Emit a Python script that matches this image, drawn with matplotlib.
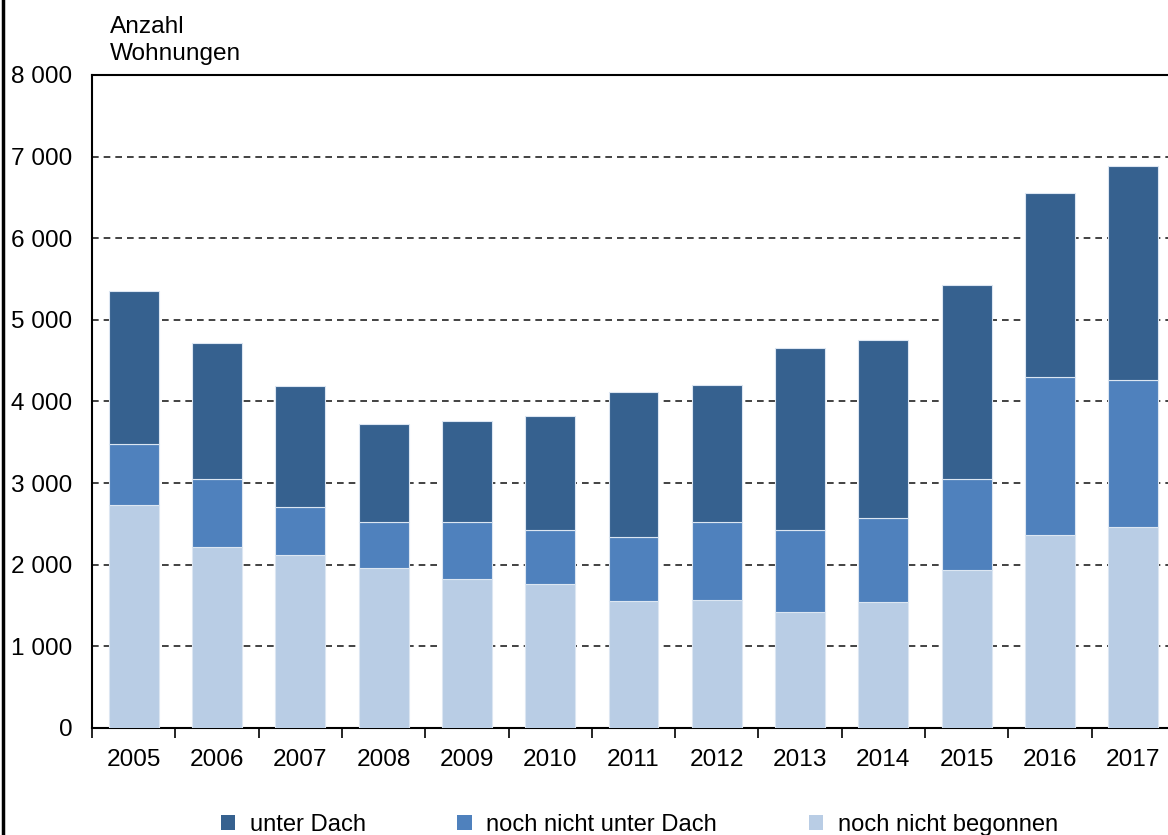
import matplotlib.pyplot as plt
from matplotlib.patches import Patch
from matplotlib.lines import Line2D
from matplotlib.ticker import FuncFormatter

years = ["2005", "2006", "2007", "2008", "2009", "2010", "2011",
         "2012", "2013", "2014", "2015", "2016", "2017"]
# Wohnungen, Bauüberhang nach Baufortschritt
nicht_begonnen = [2733, 2218, 2120, 1961, 1826, 1765, 1556, 1569, 1422, 1544, 1936, 2365, 2463]
nicht_unter_dach = [747, 833, 588, 564, 699, 661, 785, 956, 1004, 1030, 1115, 1936, 1802]
unter_dach = [1875, 1667, 1483, 1200, 1237, 1398, 1777, 1678, 2231, 2181, 2378, 2255, 2622]

labels = ["unter Dach", "noch nicht unter Dach", "noch nicht begonnen"]
colors = ["#36618f", "#4f81bd", "#b9cde5"]

plt.rcParams['font.family'] = ['Liberation Sans', 'DejaVu Sans']
FS = 17.6

W, H = 1168, 835
fig = plt.figure(figsize=(W / 100, H / 100), dpi=100)
ax = fig.add_axes([92 / W, (H - 728) / H, 1083 / W, (728 - 75) / H])

x = range(len(years))
bottom2 = nicht_begonnen
bottom3 = [a + b for a, b in zip(nicht_begonnen, nicht_unter_dach)]
kw = dict(width=0.6, edgecolor="#dce6f2", linewidth=0.8, zorder=3)
ax.bar(x, nicht_begonnen, color=colors[2], **kw)
ax.bar(x, nicht_unter_dach, bottom=bottom2, color=colors[1], **kw)
ax.bar(x, unter_dach, bottom=bottom3, color=colors[0], **kw)

ax.set_xlim(-0.5, len(years) - 0.5)
ax.set_ylim(0, 8000)
ax.set_yticks(range(0, 8001, 1000))
ax.yaxis.set_major_formatter(FuncFormatter(lambda v, p: f"{int(v):,}".replace(",", " ")))
ax.tick_params(axis="y", length=0, pad=14, labelsize=FS)

ax.set_xticks(x)
ax.set_xticklabels(years)
ax.set_xticks([i + 0.5 for i in range(-1, len(years))], minor=True)
ax.tick_params(axis="x", which="major", length=0, pad=15, labelsize=FS)
ax.tick_params(axis="x", which="minor", length=7, width=1.2, direction="out")

ax.grid(axis="y", linestyle=(0, (4, 3)), color="#222222", linewidth=1.2, zorder=0)
for s in ["left", "bottom", "top"]:
    ax.spines[s].set_linewidth(1.5)
ax.spines["right"].set_visible(False)

fig.text(110 / W, 1 - 60 / H, "Anzahl\nWohnungen", fontsize=FS, ha="left", va="baseline",
         linespacing=1.3)

# left frame line
fig.add_artist(Line2D([2.5 / W, 2.5 / W], [0, 1], color="black", linewidth=2.5))

handles = [Patch(facecolor=c, edgecolor="none") for c in colors]
fig.legend(handles, labels, loc="center left", bbox_to_anchor=(221 / W, (H - 825) / H),
           ncol=3, frameon=False, fontsize=17.1, handlelength=0.6, handleheight=0.6,
           handletextpad=0.62, columnspacing=3.85, borderpad=0, borderaxespad=0)

fig.savefig("out.png", dpi=100)
